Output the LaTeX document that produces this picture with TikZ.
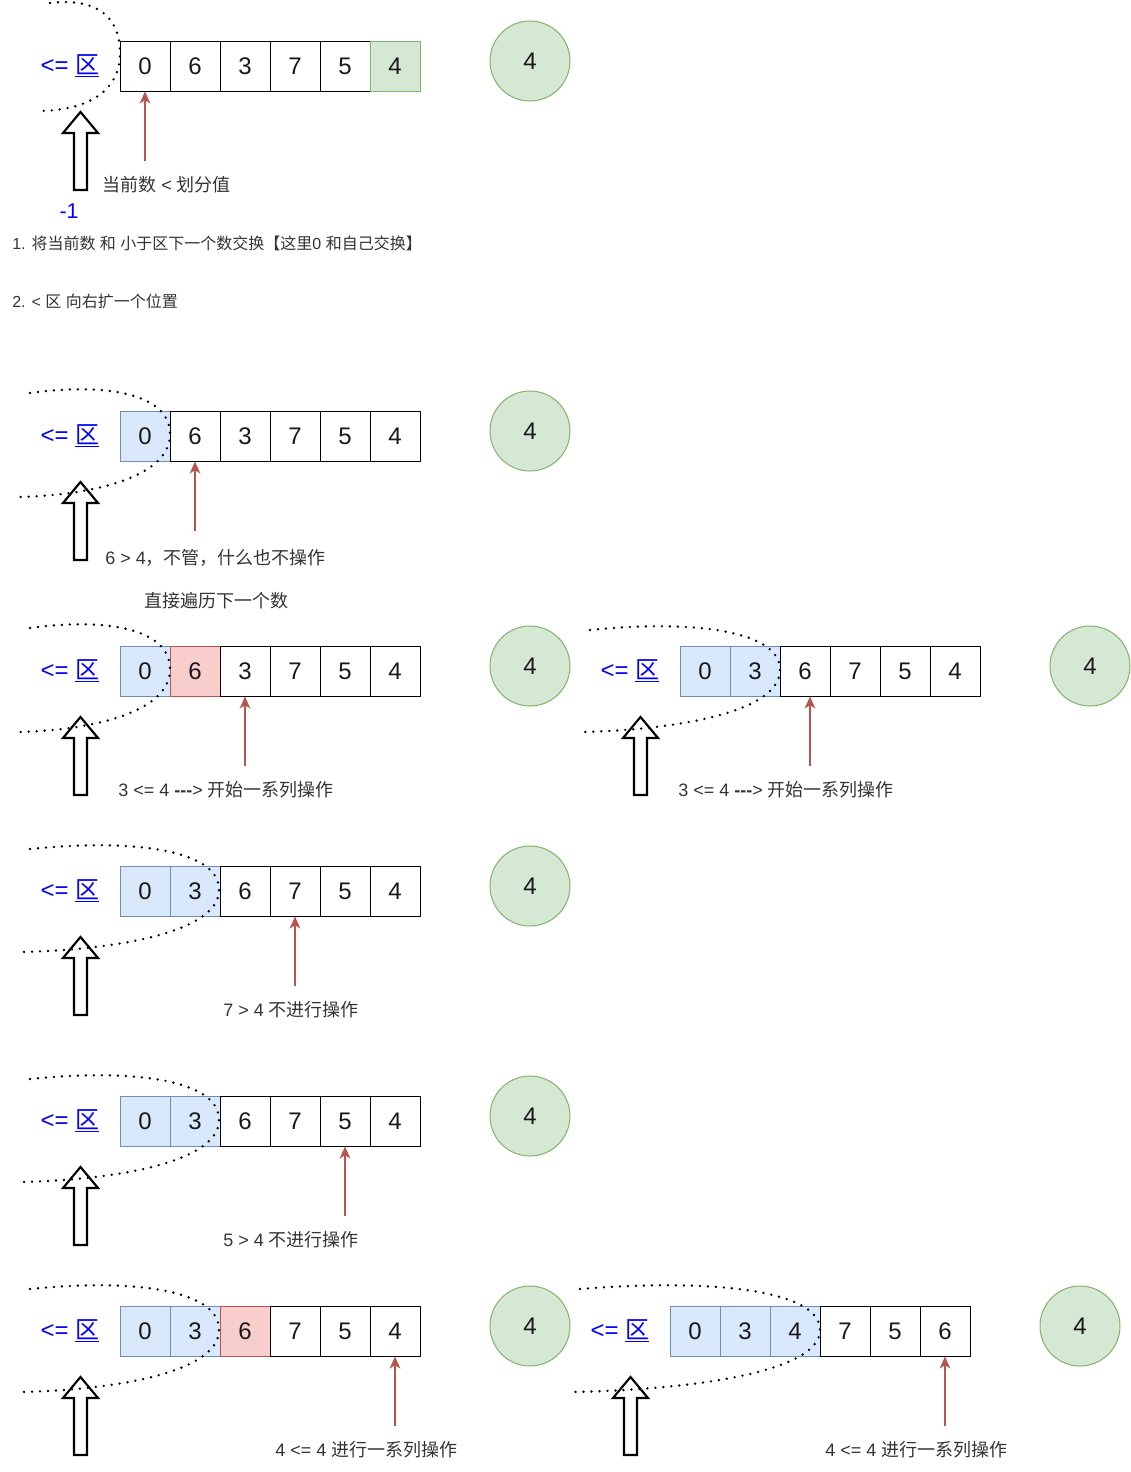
\documentclass[tikz,border=0pt]{standalone}
\usepackage{fontspec}
\setmainfont{Liberation Sans}
\newfontfamily\cjk{Noto Sans CJK SC}
\usetikzlibrary{arrows.meta}
\definecolor{bluefill}{HTML}{DAE8FC}
\definecolor{bluedraw}{HTML}{6C8EBF}
\definecolor{redfill}{HTML}{F8CECC}
\definecolor{reddraw}{HTML}{B85450}
\definecolor{greenfill}{HTML}{D5E8D4}
\definecolor{greendraw}{HTML}{82B366}
\definecolor{labelgray}{HTML}{333333}
\newcommand\zh[1]{{\cjk #1}}
\newcommand\zone{\textcolor{blue}{<= \underline{\cjk 区}}}
\tikzset{
  cellbase/.style={draw, minimum width=37.5pt, minimum height=37.5pt, inner sep=0pt,
    font=\fontsize{18}{20}\selectfont, text=black!90, line width=0.75pt},
  wc/.style={cellbase, fill=white, draw=black},
  bc/.style={cellbase, fill=bluefill, draw=bluedraw},
  rc/.style={cellbase, fill=redfill, draw=reddraw},
  gc/.style={cellbase, fill=greenfill, draw=greendraw},
  pivot/.style={circle, fill=greenfill, draw=greendraw, line width=0.75pt, minimum size=60pt,
    inner sep=0pt, font=\fontsize{18}{20}\selectfont, text=black!90},
  zonelabel/.style={font=\fontsize{18}{20}\selectfont, inner sep=0pt},
  lbl/.style={anchor=west, inner sep=0pt, font=\fontsize{13.5}{16}\selectfont, text=labelgray},
  note/.style={anchor=west, inner sep=0pt, font=\fontsize{12}{14}\selectfont, text=labelgray},
  redarrow/.style={draw=reddraw, line width=1.1pt, -{Stealth[length=9pt, width=8pt, inset=2.5pt]}},
  blockarrow/.style={draw=black, fill=white, line width=1.6pt, line join=miter},
  dotcurve/.style={draw=black, line width=2pt, line cap=round, dash pattern=on 0pt off 6pt},
}
% row of cells: #1 prefix, #2 left x, #3 top y, #4 list value/style
\newcommand\cellrow[4]{%
  \foreach \v/\s [count=\i] in {#4} {
    \node[\s] (#1c\i) at ({#2+25+50*(\i-1)},{#3+25}) {\v};
  }%
}
% block arrow: #1 name of tip coordinate
\newcommand\blockarrow[1]{%
  \draw[blockarrow] (#1) -- ++(17.5,21) -- ++(-11,0) -- ++(0,57) -- ++(-13,0) -- ++(0,-57) -- ++(-11,0) -- cycle;
}
% dotted zone curve: xs ys xr ym xe ye
\newcommand\dcurve[6]{%
  \draw[dotcurve] (#1,#2) .. controls ({#1+0.57*(#3-#1)},{#2-11}) and ({#3+2},{#2+2}) .. (#3,#4)
     .. controls ({#3-2},{#4+42}) and ({#5+0.47*(#3-#5)},{#6-2}) .. (#5,#6);
}
\begin{document}
\begin{tikzpicture}[x=0.75pt, y=-0.75pt]
\useasboundingbox (0,0) rectangle (1131,1472);

% ---------- Row 1 ----------
\cellrow{ra}{120}{41}{0/wc,6/wc,3/wc,7/wc,5/wc,4/gc}
\draw[dotcurve] (50,3) .. controls (100,-3) and (121,20) .. (120,55) .. controls (119,90) and (90,110) .. (40,111);
\node[pivot] (rap) at (530,61) {4};
\node[zonelabel] (raz) at (70,66) {\zone};
\coordinate (ratip) at (80.5,112);
\blockarrow{ratip}
\node[font=\fontsize{16}{18}\selectfont, text=blue, inner sep=0pt] (ram) at (69,211) {-1};
\coordinate (raa) at (145,161);
\draw[redarrow] (raa) -- (rac1.south);
\node[lbl] (ral) at (102,185) {\zh{当前数} < \zh{划分值}};
\node[note] (n1) at (12,243) {1. \zh{将当前数} \zh{和} \zh{小于区下一个数交换【这里}0 \zh{和自己交换】}};
\node[note] (n2) at (12,301) {2. < \zh{区} \zh{向右扩一个位置}};

% ---------- Row 2 ----------
\cellrow{rb}{120}{411}{0/bc,6/wc,3/wc,7/wc,5/wc,4/wc}
\node[pivot] (rbp) at (530,431) {4};
\node[zonelabel] (rbz) at (70,436) {\zone};
\coordinate (rbtip) at (80.5,482);
\blockarrow{rbtip}
\dcurve{30}{393}{170}{436}{20}{497}
\coordinate (rba) at (195,531);
\draw[redarrow] (rba) -- (rbc2.south);
\node[lbl] (rbl) at (105,558) {6 > 4\zh{，不管，什么也不操作}};
\node[lbl, anchor=center] (rbl2) at (216,601) {\zh{直接遍历下一个数}};

% ---------- Row 3 left ----------
\cellrow{rc}{120}{646}{0/bc,6/rc,3/wc,7/wc,5/wc,4/wc}
\node[pivot] (rcp) at (530,666) {4};
\node[zonelabel] (rcz) at (70,671) {\zone};
\coordinate (rctip) at (80.5,717);
\blockarrow{rctip}
\dcurve{30}{628}{170}{671}{20}{732}
\coordinate (rca) at (245,766);
\draw[redarrow] (rca) -- (rcc3.south);
\node[lbl] (rcl) at (118,790) {3 <= 4 \textbf{-{}-{}-}> \zh{开始一系列操作}};

% ---------- Row 3 right ----------
\cellrow{rd}{680}{646}{0/bc,3/bc,6/wc,7/wc,5/wc,4/wc}
\node[pivot] (rdp) at (1090,666) {4};
\node[zonelabel] (rdz) at (630,671) {\zone};
\coordinate (rdtip) at (640.5,717);
\blockarrow{rdtip}
\dcurve{590}{630}{780}{671}{580}{732}
\coordinate (rda) at (810,766);
\draw[redarrow] (rda) -- (rda |- rdc3.south);
\node[lbl] (rdl) at (678,790) {3 <= 4 \textbf{-{}-{}-}> \zh{开始一系列操作}};

% ---------- Row 4 ----------
\cellrow{re}{120}{866}{0/bc,3/bc,6/wc,7/wc,5/wc,4/wc}
\node[pivot] (rep) at (530,886) {4};
\node[zonelabel] (rez) at (70,891) {\zone};
\coordinate (retip) at (80.5,937);
\blockarrow{retip}
\dcurve{30}{849}{219}{891}{20}{952}
\coordinate (rea) at (295,986);
\draw[redarrow] (rea) -- (rec4.south);
\node[lbl] (rel) at (223,1010) {7 > 4 \zh{不进行操作}};

% ---------- Row 5 ----------
\cellrow{rf}{120}{1096}{0/bc,3/bc,6/wc,7/wc,5/wc,4/wc}
\node[pivot] (rfp) at (530,1116) {4};
\node[zonelabel] (rfz) at (70,1121) {\zone};
\coordinate (rftip) at (80.5,1167);
\blockarrow{rftip}
\dcurve{30}{1079}{219}{1121}{20}{1182}
\coordinate (rfa) at (345,1216);
\draw[redarrow] (rfa) -- (rfc5.south);
\node[lbl] (rfl) at (223,1240) {5 > 4 \zh{不进行操作}};

% ---------- Row 6 left ----------
\cellrow{rg}{120}{1306}{0/bc,3/bc,6/rc,7/wc,5/wc,4/wc}
\node[pivot] (rgp) at (530,1326) {4};
\node[zonelabel] (rgz) at (70,1331) {\zone};
\coordinate (rgtip) at (80.5,1377);
\blockarrow{rgtip}
\dcurve{30}{1289}{219}{1331}{20}{1392}
\coordinate (rga) at (395,1426);
\draw[redarrow] (rga) -- (rgc6.south);
\node[lbl] (rgl) at (275,1450) {4 <= 4 \zh{进行一系列操作}};

% ---------- Row 6 right ----------
\cellrow{rh}{670}{1306}{0/bc,3/bc,4/bc,7/wc,5/wc,6/wc}
\node[pivot] (rhp) at (1080,1326) {4};
\node[zonelabel] (rhz) at (620,1331) {\zone};
\coordinate (rhtip) at (630.5,1377);
\blockarrow{rhtip}
\dcurve{580}{1289}{820}{1331}{570}{1392}
\coordinate (rha) at (945,1426);
\draw[redarrow] (rha) -- (rhc6.south);
\node[lbl] (rhl) at (825,1450) {4 <= 4 \zh{进行一系列操作}};
\end{tikzpicture}
\end{document}
